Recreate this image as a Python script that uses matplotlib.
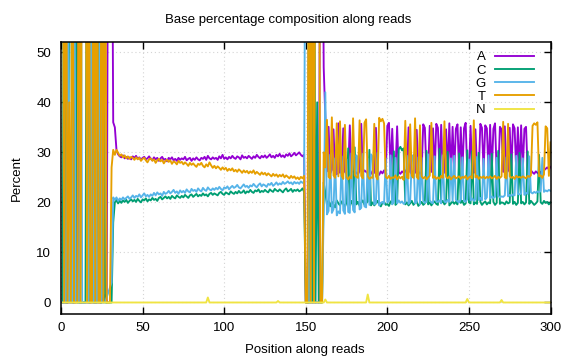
import numpy as np
import matplotlib
matplotlib.use("Agg")
import matplotlib.pyplot as plt

plt.rcParams['font.family'] = ['Liberation Sans', 'DejaVu Sans']

# position along reads (1..300)
positions = np.arange(1, 301)

base_a = [
    0, 0, 0, 0, 0, 0, 0, 0, 0, 100,
    0, 0, 0, 0, 0, 0, 0, 0, 0, 0,
    0, 0, 0, 0, 0, 1, 1.5, 0, 100, 100,
    100, 36, 35, 30.5, 29.6, 29.2, 29.0, 29.4, 28.8, 29.1,
    28.7, 29.0, 28.6, 29.2, 28.9, 29.3, 28.7, 29.0, 28.5, 28.9,
    29.1, 28.6, 28.8, 29.2, 28.7, 28.4, 29.0, 28.6, 28.9, 28.3,
    28.8, 29.1, 28.5, 28.7, 28.2, 28.9, 28.6, 29.0, 28.4, 28.7,
    28.3, 28.9, 28.5, 28.8, 28.6, 29.1, 28.4, 28.7, 28.9, 28.3,
    28.8, 28.5, 29.0, 28.6, 28.4, 28.9, 28.7, 29.1, 28.5, 29.3,
    28.8, 28.6, 29.0, 28.7, 28.9, 28.5, 29.2, 28.8, 29.5, 28.7,
    29.0, 28.6, 29.1, 28.8, 29.3, 28.9, 28.7, 29.2, 29.0, 28.6,
    29.4, 28.9, 29.1, 28.8, 29.3, 29.0, 28.7, 29.2, 28.9, 29.5,
    29.1, 28.8, 29.3, 29.0, 29.4, 28.9, 29.2, 29.6, 29.0, 29.3,
    28.9, 29.5, 29.2, 29.7, 29.1, 29.4, 29.0, 29.6, 29.3, 29.8,
    29.2, 29.5, 29.9, 29.4, 29.7, 30.0, 29.5, 29.2, 29.6, 0,
    0, 0, 0, 0, 0, 0, 0, 0, 100, 100,
    47, 37, 26.2, 35.1, 25.8, 26.5, 34.6, 26.0, 25.6, 35.8,
    25.9, 26.4, 34.8, 26.1, 25.7, 26.3, 35.4, 25.9, 26.2, 25.8,
    26.0, 25.6, 26.3, 35.7, 25.9, 26.4, 26.1, 25.8, 26.2, 25.7,
    26.3, 25.9, 34.9, 26.0, 25.5, 26.2, 25.8, 26.4, 25.7, 35.3,
    35.9, 26.1, 34.7, 25.6, 26.3, 35.2, 26.0, 25.7, 26.2, 25.9,
    26.4, 25.8, 35.0, 26.1, 25.6, 26.3, 25.9, 34.5, 26.2, 25.7,
    26.0, 35.6, 34.9, 25.8, 26.4, 35.3, 26.1, 34.8, 25.9, 35.7,
    34.9, 26.2, 35.5, 25.7, 26.0, 34.6, 26.3, 35.8, 25.9, 35.1,
    26.1, 34.7, 35.6, 25.8, 35.0, 26.2, 34.8, 35.9, 26.0, 25.7,
    35.3, 26.3, 25.9, 34.6, 26.1, 25.8, 35.7, 34.9, 26.2, 35.4,
    34.8, 26.0, 35.5, 25.9, 34.7, 35.8, 26.2, 25.7, 35.1, 34.6,
    26.1, 35.2, 25.8, 26.3, 34.9, 26.0, 35.6, 34.8, 26.2, 35.0,
    26.0, 35.4, 26.3, 34.7, 35.1, 26.1, 25.8, 26.4, 26.0, 25.7,
    26.2, 25.9, 25.6, 26.1, 25.8, 26.4, 26.7, 27.0, 26.6, 27.1,
]

base_c = [
    0, 100, 0, 0, 60, 100, 0, 0, 100, 0,
    0, 0, 0, 0, 0, 100, 0, 0, 100, 0,
    0, 0, 100, 0, 0, 100, 0, 0, 0, 0,
    0, 16, 20, 20.5, 19.8, 20.3, 19.9, 20.4, 20.1, 20.5,
    19.9, 20.3, 20.6, 20.2, 20.5, 20.1, 20.7, 20.3, 20.0, 20.6,
    20.4, 20.8, 20.2, 20.6, 20.4, 20.9, 20.5, 20.7, 20.3, 20.9,
    21.1, 20.6, 20.9, 21.2, 20.8, 21.1, 20.7, 21.3, 21.0, 20.8,
    21.4, 21.1, 20.9, 21.3, 21.0, 21.5, 21.2, 20.9, 21.4, 21.6,
    21.1, 21.4, 21.7, 21.2, 21.5, 21.3, 21.8, 21.4, 21.6, 21.2,
    21.7, 21.9, 21.5, 21.8, 21.6, 21.4, 21.9, 22.1, 21.7, 21.5,
    22.0, 21.8, 21.6, 22.2, 21.9, 21.7, 22.1, 21.8, 22.3, 21.9,
    22.0, 22.4, 21.8, 22.2, 22.0, 22.5, 22.1, 21.9, 22.4, 22.2,
    22.6, 22.0, 22.3, 22.1, 22.5, 22.2, 22.0, 22.6, 22.3, 22.1,
    22.7, 22.4, 22.2, 22.6, 22.3, 22.0, 22.5, 22.8, 22.2, 22.4,
    22.7, 22.1, 22.5, 22.3, 22.6, 22.2, 22.4, 22.8, 22.1, 0,
    0, 0, 100, 0, 100, 0, 40, 0, 0, 0,
    24, 22, 19.5, 20.3, 19.2, 20.1, 19.6, 19.0, 20.4, 19.8,
    19.4, 20.2, 19.7, 19.1, 20.0, 30.8, 19.5, 20.3, 19.2, 31.0,
    19.6, 20.1, 19.3, 19.9, 20.4, 19.5, 19.8, 20.2, 30.5, 19.4,
    20.0, 19.4, 19.8, 20.3, 19.6, 19.2, 19.9, 20.1, 19.5, 19.7,
    19.3, 20.2, 19.7, 30.2, 19.5, 19.9, 30.6, 31.1, 30.4, 30.8,
    19.6, 20.0, 19.4, 19.8, 20.3, 19.5, 19.9, 20.2, 19.3, 19.7,
    20.1, 19.5, 19.8, 30.3, 19.6, 20.0, 19.4, 19.9, 20.2, 19.7,
    19.5, 30.7, 19.9, 20.3, 19.6, 20.0, 30.1, 19.4, 19.8, 20.2,
    19.7, 20.1, 19.6, 29.8, 19.9, 20.3, 19.5, 19.8, 30.4, 20.0,
    19.8, 30.2, 19.6, 20.0, 19.7, 29.9, 20.1, 19.5, 19.9, 20.2,
    19.6, 20.0, 19.8, 29.7, 20.1, 19.5, 19.9, 30.3, 19.7, 20.0,
    19.9, 19.6, 20.2, 19.8, 20.0, 29.6, 19.7, 20.1, 19.5, 19.9,
    29.9, 19.8, 20.1, 19.6, 20.0, 30.2, 19.7, 20.3, 19.9, 19.5,
    19.8, 20.2, 29.5, 20.0, 19.7, 20.3, 19.9, 20.1, 19.6, 20.0,
]

base_g = [
    0, 0, 0, 100, 0, 0, 0, 100, 0, 0,
    0, 100, 0, 0, 0, 0, 0, 100, 0, 0,
    100, 0, 0, 100, 0, 0, 0, 1, 2, 3,
    4, 21, 20.5, 21, 20.3, 20.8, 20.5, 21.0, 20.6, 20.9,
    21.2, 20.7, 21.0, 21.4, 20.9, 21.3, 21.1, 21.6, 21.0, 21.4,
    21.8, 21.2, 21.5, 21.1, 21.6, 21.3, 21.9, 21.4, 22.0, 21.6,
    21.8, 21.3, 22.1, 21.7, 21.9, 22.3, 21.8, 22.1, 22.5, 21.9,
    22.2, 21.7, 22.4, 22.0, 22.3, 21.9, 22.6, 22.2, 22.0, 22.7,
    22.3, 22.5, 22.1, 22.8, 22.4, 22.2, 22.9, 22.5, 22.3, 23.0,
    22.6, 22.4, 22.8, 22.5, 22.9, 22.6, 23.1, 22.7, 22.4, 23.0,
    22.8, 23.2, 22.6, 23.0, 23.3, 22.9, 23.1, 23.5, 23.0, 22.8,
    23.2, 23.6, 23.1, 23.3, 22.9, 23.4, 23.2, 23.7, 23.3, 23.0,
    23.5, 23.8, 23.2, 23.6, 23.4, 23.1, 23.7, 23.5, 23.9, 23.3,
    23.6, 24.0, 23.5, 23.8, 23.6, 24.1, 23.7, 23.9, 24.2, 23.8,
    24.0, 23.6, 24.1, 23.8, 24.0, 23.7, 24.2, 23.9, 24.1, 100,
    100, 0, 0, 0, 0, 0, 0, 0, 0, 0,
    18, 42, 17.6, 18.3, 29.5, 17.9, 18.6, 28.8, 17.4, 18.2,
    17.8, 29.2, 18.4, 17.7, 28.6, 18.1, 17.9, 29.8, 18.5, 18.0,
    29.4, 28.9, 18.6, 18.9, 29.7, 19.2, 19.0, 28.7, 19.5, 29.6,
    29.1, 19.6, 19.8, 29.9, 19.4, 19.9, 20.1, 19.7, 28.8, 20.0,
    20.3, 29.4, 19.6, 20.1, 28.9, 19.8, 20.4, 19.9, 20.2, 19.7,
    20.0, 29.3, 19.7, 20.2, 28.7, 29.5, 19.8, 20.1, 29.0, 19.6,
    28.9, 20.3, 19.9, 20.1, 29.6, 20.4, 20.0, 19.8, 29.2, 20.2,
    20.1, 20.4, 19.8, 29.4, 20.2, 20.0, 20.5, 20.1, 28.8, 20.3,
    29.3, 20.5, 20.2, 20.0, 20.6, 29.0, 20.3, 20.1, 20.7, 28.6,
    20.4, 20.8, 20.3, 20.6, 29.1, 20.5, 20.9, 20.4, 28.7, 20.6,
    21.0, 29.4, 20.8, 21.2, 20.9, 21.1, 28.9, 21.3, 21.0, 21.2,
    21.1, 21.4, 29.0, 21.2, 21.5, 21.3, 21.6, 21.4, 29.3, 21.7,
    21.6, 21.8, 28.8, 21.5, 21.9, 21.7, 29.2, 22.0, 21.8, 22.1,
    21.9, 22.2, 22.0, 22.3, 28.9, 22.1, 22.4, 22.2, 22.5, 22.3,
]

base_t = [
    100, 0, 100, 0, 40, 0, 100, 0, 0, 0,
    100, 0, 100, 100, 100, 0, 100, 0, 0, 100,
    0, 100, 0, 0, 100, 0, 100, 0, 0, 0,
    27, 30.5, 29.5, 30.5, 29.9, 29.3, 29.6, 29.0, 29.4, 28.8,
    29.2, 28.7, 29.1, 28.9, 28.5, 29.0, 28.6, 28.9, 28.3, 28.7,
    28.9, 28.4, 28.0, 28.6, 28.8, 28.3, 28.6, 27.9, 28.4, 28.7,
    28.2, 28.5, 27.8, 28.3, 28.5, 28.1, 28.4, 27.7, 28.2, 28.0,
    27.6, 28.3, 27.9, 28.1, 27.6, 28.0, 27.7, 27.3, 27.9, 27.5,
    27.8, 27.4, 27.1, 27.7, 27.5, 27.9, 27.3, 27.0, 27.6, 27.2,
    28.0, 27.4, 26.9, 27.3, 26.8, 27.2, 26.9, 26.5, 27.0, 26.6,
    26.9, 26.3, 26.7, 26.4, 26.8, 26.2, 26.5, 26.1, 26.6, 26.3,
    25.9, 26.4, 26.0, 26.3, 25.8, 26.2, 25.9, 26.4, 25.7, 26.1,
    25.8, 25.5, 26.0, 25.6, 25.9, 25.4, 25.8, 25.5, 25.2, 25.7,
    25.3, 25.6, 25.1, 25.5, 25.2, 25.6, 25.0, 25.4, 25.1, 24.8,
    25.3, 24.9, 25.2, 24.7, 25.0, 24.6, 25.1, 24.8, 25.3, 0,
    0, 100, 0, 100, 0, 100, 60, 100, 0, 0,
    30, 27, 36.5, 25.1, 24.8, 37.0, 25.4, 24.9, 35.8, 25.2,
    36.2, 25.3, 24.7, 35.5, 25.0, 24.6, 25.2, 24.8, 36.8, 25.4,
    25.1, 24.9, 36.4, 25.3, 24.8, 35.9, 36.6, 25.2, 24.7, 25.0,
    24.9, 35.7, 25.2, 24.6, 36.9, 36.2, 36.7, 35.8, 25.1, 24.8,
    25.3, 24.7, 25.0, 24.9, 25.4, 24.6, 25.2, 24.8, 25.1, 24.5,
    36.3, 25.0, 24.8, 35.6, 25.3, 24.9, 36.8, 25.1, 24.7, 35.4,
    25.2, 24.8, 25.1, 24.6, 25.0, 25.3, 35.9, 24.9, 25.2, 24.7,
    25.0, 24.7, 25.3, 24.9, 36.2, 25.1, 24.8, 25.2, 24.6, 25.0,
    25.3, 24.8, 25.0, 25.2, 24.7, 25.1, 24.9, 25.3, 24.6, 25.0,
    25.2, 24.8, 36.4, 25.0, 25.3, 24.7, 25.1, 24.9, 25.2, 24.8,
    25.1, 24.9, 25.2, 24.8, 25.0, 25.3, 24.7, 25.1, 24.9, 25.2,
    36.1, 25.0, 24.8, 35.7, 25.2, 24.9, 25.1, 24.7, 25.3, 25.0,
    25.1, 24.9, 25.2, 25.0, 24.8, 25.3, 25.1, 25.4, 35.3, 35.8,
    35.5, 36.0, 25.2, 25.4, 24.9, 25.6, 35.2, 34.8, 25.3, 32.0,
]

# N is zero except a few small bumps
n_bump_pos = [90, 133, 162, 188, 249, 270]
n_bump_val = [1.0, 0.3, 0.6, 1.6, 0.7, 0.5]
base_n = np.zeros(300)
for p, v in zip(n_bump_pos, n_bump_val):
    base_n[p - 1] = v

labels = ['A', 'C', 'G', 'T', 'N']
colors = ['#9400d3', '#009e73', '#56b4e9', '#e69f00', '#f0e442']
series = [base_a, base_c, base_g, base_t, base_n]

fig = plt.figure(figsize=(5.76, 3.6), dpi=100)
ax = fig.add_axes([61 / 576, 1 - 314 / 360, 489.5 / 576, 272 / 360])

for lab, col, ys in zip(labels, colors, series):
    ax.plot(positions, ys, color=col, lw=1.35, label=lab)

ax.set_xlim(0, 300)
ax.set_ylim(-2.3, 52.05)
ax.set_xticks(range(0, 301, 50))
ax.set_yticks(range(0, 51, 10))
ax.grid(True, color='#d4d4d4', linestyle=(0, (1, 2.5)), lw=0.8)
ax.tick_params(direction='in', top=True, right=True, length=5, width=1,
               labelsize=9.5, colors='black')
ax.tick_params(axis='x', pad=6)
ax.tick_params(axis='y', pad=7)
for s in ax.spines.values():
    s.set_linewidth(1.1)

leg = ax.legend(loc='upper right', bbox_to_anchor=(0.967, 0.967), frameon=False,
                markerfirst=False, handlelength=3.0, handletextpad=0.7,
                labelspacing=0.08, borderpad=0, borderaxespad=0, fontsize=9.5)

fig.text(0.5, 1 - 20 / 360, 'Base percentage composition along reads',
         ha='center', va='center', fontsize=9.5)
fig.text(305 / 576, 1 - 350 / 360, 'Position along reads',
         ha='center', va='center', fontsize=9.5)
fig.text(17 / 576, 1 - 178 / 360, 'Percent', rotation=90,
         ha='center', va='center', fontsize=9.5)

fig.savefig('out.png', dpi=100)
